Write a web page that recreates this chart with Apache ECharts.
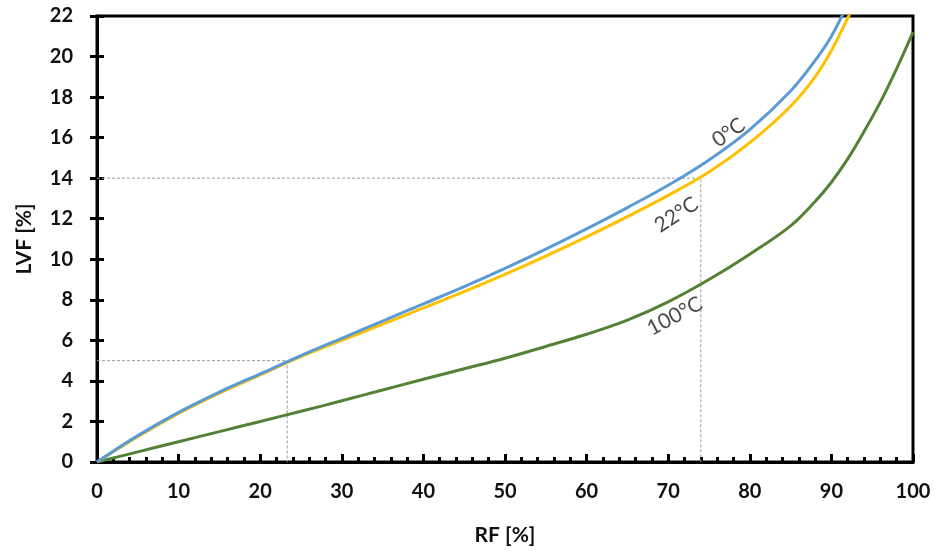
<!DOCTYPE html>
<html><head><meta charset="utf-8">
<script src="https://cdn.jsdelivr.net/npm/echarts@6/dist/echarts.min.js"></script>
<style>html,body{margin:0;padding:0;background:#fff}#c{width:934px;height:551px}</style>
</head><body><div id="c"></div>
<script>
// RF [%] vs LVF [%]
const curve0C = [[0,0],[5,1.3],[10,2.45],[15,3.45],[20,4.35],[25,5.25],[30,6.1],[35,6.95],[40,7.8],[45,8.65],[50,9.55],[55,10.5],[60,11.5],[65,12.55],[70,13.65],[75,14.9],[80,16.4],[85,18.3],[88,19.8],[90,21.0],[92,22.6]];
const curve22C = [[0,0],[5,1.25],[10,2.4],[15,3.4],[20,4.3],[25,5.2],[30,6.0],[35,6.8],[40,7.6],[45,8.4],[50,9.25],[55,10.15],[60,11.1],[65,12.1],[70,13.15],[75,14.3],[80,15.75],[85,17.55],[88,19.0],[90,20.3],[92,21.9],[93,22.8]];
const curve100C = [[0,0],[5,0.5],[10,1.0],[15,1.5],[20,2.0],[25,2.5],[30,3.02],[35,3.55],[40,4.08],[45,4.6],[50,5.12],[55,5.7],[60,6.3],[65,7.0],[70,7.9],[75,9.0],[80,10.25],[85,11.65],[88,12.85],[90,13.8],[92,14.95],[94,16.3],[96,17.75],[98,19.4],[100,21.2]];
const guideA = [[0,14],[74,14],[74,0]];
const guideB = [[0,5],[23.3,5],[23.3,0]];
const curveLabels = [
  {text:'0°C', x:77.4, y:16.25, rot:35},
  {text:'22°C', x:71.0, y:12.2, rot:33},
  {text:'100°C', x:70.8, y:7.2, rot:28}
];
const xTicks = [0,10,20,30,40,50,60,70,80,90,100];
const yTicks = [0,2,4,6,8,10,12,14,16,18,20,22];

const chart = echarts.init(document.getElementById('c'));
const font = 'Lato, "Open Sans", sans-serif';
const boldName = {fontFamily:font, fontWeight:'bold', fontSize:21, color:'#111'};
const lineSeries = (data, color) => ({
  type:'line', data, smooth:0.35, showSymbol:false, symbol:'none',
  lineStyle:{color, width:3}, z:3
});
chart.setOption({
  animation:false,
  grid:{left:97, right:21, top:16, bottom:89, show:true, borderColor:'#000', borderWidth:3, backgroundColor:'transparent'},
  xAxis:{
    type:'value', min:xTicks[0], max:xTicks[xTicks.length-1], interval:10,
    name:'{b|RF [%]}', nameLocation:'middle', nameGap:63,
    nameTextStyle:Object.assign({rich:{b:boldName}}, boldName),
    axisLine:{lineStyle:{color:'#000', width:3}},
    axisTick:{inside:true, length:8, lineStyle:{color:'#000', width:3}},
    minorTick:{show:true, splitNumber:5, length:5, lineStyle:{color:'#000', width:3}},
    axisLabel:{fontFamily:font, fontWeight:'bold', fontSize:20, color:'#111', margin:20},
    splitLine:{show:false}
  },
  yAxis:[{
    type:'value', min:yTicks[0], max:yTicks[yTicks.length-1], interval:2,
    name:'{b|LVF [%]}', nameLocation:'middle', nameGap:62,
    nameTextStyle:Object.assign({rich:{b:boldName}}, boldName),
    axisLine:{lineStyle:{color:'#000', width:3}},
    axisTick:{inside:false, length:7, lineStyle:{color:'#000', width:3}},
    axisLabel:{fontFamily:font, fontWeight:'bold', fontSize:20, color:'#111', margin:24},
    splitLine:{show:false}
  },{
    type:'value', position:'left', min:yTicks[0], max:yTicks[yTicks.length-1], interval:2,
    axisLine:{show:false},
    axisTick:{show:true, inside:true, length:7, lineStyle:{color:'#000', width:3}},
    axisLabel:{show:false}, splitLine:{show:false}
  }],
  series:[
    {type:'line', data:guideA, showSymbol:false, symbol:'none', lineStyle:{color:'#9a9a9a', width:1, type:[3,2]}, z:1},
    {type:'line', data:guideB, showSymbol:false, symbol:'none', lineStyle:{color:'#9a9a9a', width:1, type:[3,2]}, z:1},
    lineSeries(curve100C, '#548235'),
    lineSeries(curve22C, '#FFC000'),
    lineSeries(curve0C, '#5B9BD5'),
    {type:'scatter', symbolSize:0, z:5,
     data: curveLabels.map(l => ({value:[l.x, l.y], label:{show:true, position:'inside', formatter:l.text, rotate:l.rot,
       fontFamily:font, fontSize:21, color:'#1a1a1a'}}))}
  ]
});
</script></body></html>
